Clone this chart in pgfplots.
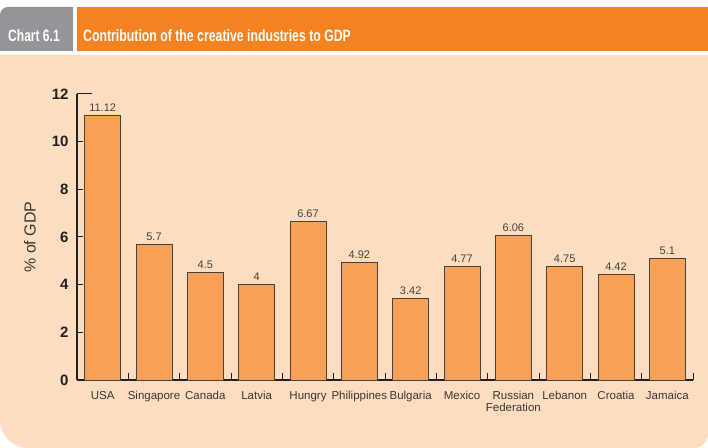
\documentclass[border=0pt]{standalone}
\usepackage{graphicx}
\usepackage{pgfplots}
\usepackage{pgfplotstable}
\pgfplotsset{compat=1.18}
\usepackage{fontspec}
\setmainfont{Liberation Sans}
\definecolor{hdrgray}{RGB}{147,149,152}
\definecolor{hdrorange}{RGB}{245,130,32}
\definecolor{peach}{RGB}{253,221,191}
\definecolor{barorange}{RGB}{248,160,86}
\definecolor{txt}{RGB}{35,31,32}
\pgfplotstableread{
x y
0.5 11.12
1.5 5.7
2.5 4.5
3.5 4
4.5 6.67
5.5 4.92
6.5 3.42
7.5 4.77
8.5 6.06
9.5 4.75
10.5 4.42
11.5 5.1
}\data
\begin{document}
\begin{tikzpicture}[x=1bp,y=1bp]
\useasboundingbox (0,0) rectangle (708,448);
\fill[white] (0,0) rectangle (708,448);
\fill[peach] (0,393) -- (708,393) -- (708,14) arc[start angle=0,end angle=-90,radius=14] -- (28,0) arc[start angle=270,end angle=180,radius=28] -- cycle;
\fill[hdrgray] (0,397) -- (0,433) arc[start angle=180,end angle=90,radius=8] -- (73,441) -- (73,397) -- cycle;
\fill[hdrorange] (77,397) rectangle (708,441);
\node[anchor=base west, inner sep=0, text=white] at (8,406) {\fontsize{16.5bp}{16bp}\selectfont\bfseries\scalebox{0.73}[1]{Chart 6.1}};
\node[anchor=base west, inner sep=0, text=white] at (83,406) {\fontsize{16.5bp}{16bp}\selectfont\bfseries\scalebox{0.745}[1]{Contribution of the creative industries to GDP}};
\begin{axis}[
  at={(77bp,68bp)}, anchor=south west, scale only axis,
  width=616bp, height=286bp,
  xmin=0, xmax=12, ymin=0, ymax=12, enlargelimits=false, clip=false,
  ybar, bar width=0.7,
  axis x line*=bottom, axis y line*=left,
  axis line style={line width=1.2bp, color=txt},
  xtick={0.5,1.5,...,11.5},
  xticklabels={USA,Singapore,Canada,Latvia,Hungry,Philippines,Bulgaria,Mexico,{Russian\\Federation},Lebanon,Croatia,Jamaica},
  xticklabel style={font=\fontsize{11.5bp}{12bp}\selectfont, text=txt!90, align=center, anchor=north, yshift=-8bp},
  major x tick style={draw=none},
  minor xtick={1,...,12},
  minor tick length=7bp,
  ytick={0,2,...,10}, major tick length=6bp,
  extra y ticks={12},
  extra y tick style={major tick length=15bp},
  tick align=inside,
  tick style={line width=1bp, color=txt},
  yticklabel style={font=\fontsize{15bp}{15bp}\selectfont\bfseries, text=txt, xshift=-5bp},
  /pgf/number format/assume math mode=true,
  ylabel={\% of GDP},
  ylabel style={font=\fontsize{16bp}{16bp}\selectfont, text=txt!90, at={(axis description cs:-0.0763,0.5)}, anchor=center},
  nodes near coords,
  every node near coord/.append style={font=\fontsize{11bp}{11bp}\selectfont, text=txt!85},
]
\addplot[fill=barorange, draw=txt!85, line width=0.8bp] table[x=x,y=y]{\data};
\end{axis}
\end{tikzpicture}
\end{document}
